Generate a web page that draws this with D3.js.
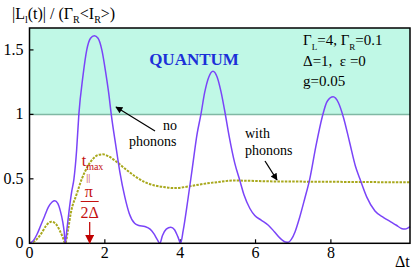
<!DOCTYPE html>
<html><head><meta charset="utf-8">
<script src="https://cdn.jsdelivr.net/npm/d3@7"></script>
<style>body{margin:0;background:#fff}svg{display:block}text{font-family:"Liberation Serif","Times New Roman",serif}</style>
</head><body><svg id="c" width="415" height="271"></svg>
<script>
// data
const noPhononsT = [0,0.1,0.2,0.3,0.4,0.5,0.6,0.67,0.75,0.82,0.88,0.92,0.95,0.99,1.05,1.12,1.18,1.25,1.31,1.42,1.52,1.62,1.72,1.82,1.92,2.02,2.1,2.17,2.3,2.4,2.53,2.65,2.79,2.9,3.06,3.2,3.3,3.4,3.46,3.53,3.63,3.75,3.85,3.94,4.01,4.08,4.2,4.32,4.45,4.55,4.65,4.76,4.87,4.98,5.08,5.18,5.3,5.45,5.58,5.7,5.85,5.98,6.15,6.34,6.5,6.65,6.8,6.87,6.95,7.05,7.17,7.3,7.44,7.6,7.77,7.9,8.06,8.2,8.33,8.5,8.65,8.77,8.95,9.17,9.4,9.6,9.74,9.87,9.97,10.05,10.1];
const noPhononsV = [0,0.02,0.07,0.14,0.21,0.28,0.32,0.33,0.31,0.25,0.17,0.09,0.0,0.1,0.25,0.4,0.5,0.72,1.0,1.3,1.5,1.59,1.61,1.59,1.5,1.33,1.17,1.0,0.74,0.55,0.36,0.23,0.155,0.138,0.13,0.11,0.075,0.025,0.0,0.06,0.11,0.125,0.105,0.05,0.0,0.1,0.33,0.58,0.85,1.0,1.17,1.29,1.335,1.29,1.18,1.03,0.83,0.62,0.49,0.37,0.27,0.215,0.18,0.14,0.09,0.04,0.01,0.008,0.03,0.09,0.2,0.34,0.5,0.75,0.98,1.1,1.136,1.09,0.98,0.78,0.6,0.5,0.36,0.25,0.2,0.165,0.14,0.115,0.11,0.12,0.13];
const withPhononsT = [0,0.15,0.3,0.45,0.58,0.7,0.8,0.88,0.95,1.02,1.1,1.25,1.39,1.55,1.7,1.82,1.95,2.1,2.3,2.53,2.8,3.06,3.3,3.6,3.86,4.2,4.6,5.0,5.45,5.8,6.5,7.5,8.5,9.5,10.1];
const withPhononsV = [0,0.02,0.07,0.14,0.168,0.15,0.1,0.05,0.0,0.1,0.24,0.38,0.5,0.6,0.66,0.685,0.69,0.675,0.635,0.58,0.52,0.475,0.45,0.435,0.428,0.44,0.46,0.475,0.487,0.485,0.48,0.478,0.476,0.474,0.473];
const xTicks = [0,2,4,6,8];
const yTicks = [0,0.5,1,1.5];
const yTickLabels = ["0","0.5","1","1.5"];
const quantumLevel = 1;
const tMax = Math.PI/2;

const svg = d3.select("#c");
const L=29.5,R=410,T=28,B=243.3;
const x = d3.scaleLinear().domain([0,10.1]).range([L,R]);
const y = d3.scaleLinear().domain([0,1.67]).range([B,T]);

// quantum region
svg.append("rect").attr("x",L).attr("y",T).attr("width",R-L).attr("height",y(quantumLevel)-T).attr("fill","#c0f8e6");
svg.append("line").attr("x1",L).attr("x2",R).attr("y1",y(quantumLevel)).attr("y2",y(quantumLevel)).attr("stroke","#80b8a4").attr("stroke-width",1.5);

// ticks inward
svg.selectAll(".xt").data(xTicks.filter(d=>d>0)).enter().append("line")
 .attr("x1",d=>x(d)).attr("x2",d=>x(d)).attr("y1",B).attr("y2",B-4).attr("stroke","#000").attr("stroke-width",1.2);
svg.selectAll(".yt").data(yTicks.filter(d=>d>0)).enter().append("line")
 .attr("x1",L).attr("x2",L+4).attr("y1",d=>y(d)).attr("y2",d=>y(d)).attr("stroke","#000").attr("stroke-width",1.2);
svg.selectAll(".xl").data(xTicks).enter().append("text")
 .attr("x",d=>x(d)).attr("y",B+15).attr("text-anchor","middle").attr("font-size",16).text(d=>d);
svg.selectAll(".yl").data(yTicks).enter().append("text")
 .attr("x",L-6).attr("y",d=>y(d)+5).attr("text-anchor","end").attr("font-size",16).text((d,i)=>yTickLabels[i]);
svg.append("text").attr("x",395).attr("y",267).attr("font-size",16).text("Δt");

// curves
const line = d3.line().x(d=>x(d[0])).y(d=>y(d[1])).curve(d3.curveMonotoneX);
svg.append("path").datum(withPhononsT.map((t,i)=>[t,withPhononsV[i]])).attr("d",line)
 .attr("fill","none").attr("stroke","#a8a81c").attr("stroke-width",2).attr("stroke-dasharray","2.5,1.2");
svg.append("path").datum(noPhononsT.map((t,i)=>[t,noPhononsV[i]])).attr("d",line)
 .attr("fill","none").attr("stroke","#7a44f8").attr("stroke-width",1.5);

// frame
svg.append("rect").attr("x",L).attr("y",T).attr("width",R-L).attr("height",B-T).attr("fill","none").attr("stroke","#000").attr("stroke-width",1.5);

// y label
const yl = svg.append("text").attr("x",12).attr("y",19).attr("font-size",16);
yl.append("tspan").text("|L");
yl.append("tspan").attr("font-size",10).attr("dy",4).text("l");
yl.append("tspan").attr("dy",-4).text("(t)| / (Γ");
yl.append("tspan").attr("font-size",10).attr("dy",4).text("R");
yl.append("tspan").attr("dy",-4).text("<I");
yl.append("tspan").attr("font-size",10).attr("dy",4).text("R");
yl.append("tspan").attr("dy",-4).text(">)");

svg.append("text").attr("x",194).attr("y",65).attr("text-anchor","middle").attr("font-size",17).attr("font-weight","bold").attr("fill","#1c30d8").text("QUANTUM");

const p1 = svg.append("text").attr("x",303).attr("y",45).attr("font-size",15);
p1.append("tspan").text("Γ");
p1.append("tspan").attr("font-size",9).attr("dy",5).text("L");
p1.append("tspan").attr("dy",-5).text("=4, Γ");
p1.append("tspan").attr("font-size",9).attr("dy",5).text("R");
p1.append("tspan").attr("dy",-5).text("=0.1");
svg.append("text").attr("x",303).attr("y",66).attr("font-size",15).attr("xml:space","preserve").text("Δ=1,  ε =0");
svg.append("text").attr("x",303).attr("y",86).attr("font-size",15).text("g=0.05");

// annotations
const defs = svg.append("defs");
function marker(id,color,w,h){
 defs.append("marker").attr("id",id).attr("viewBox","0 0 10 10").attr("refX",9).attr("refY",5)
  .attr("markerWidth",w).attr("markerHeight",h).attr("markerUnits","userSpaceOnUse").attr("orient","auto")
  .append("path").attr("d","M0,0L10,5L0,10z").attr("fill",color);
}
marker("ab","#000",9,7); marker("ar","#c00000",10,9);
svg.append("text").attr("x",163).attr("y",130).attr("font-size",14).text("no");
svg.append("text").attr("x",129).attr("y",146).attr("font-size",14).text("phonons");
svg.append("line").attr("x1",155).attr("y1",131).attr("x2",116).attr("y2",107).attr("stroke","#000").attr("stroke-width",1.3).attr("marker-end","url(#ab)");
svg.append("text").attr("x",245).attr("y",138).attr("font-size",14).text("with");
svg.append("text").attr("x",245).attr("y",155).attr("font-size",14).text("phonons");
svg.append("line").attr("x1",265).attr("y1",161).attr("x2",277).attr("y2",180).attr("stroke","#000").attr("stroke-width",1.3).attr("marker-end","url(#ab)");

const red="#c41010";
const tx = x(tMax);
const tm = svg.append("text").attr("x",tx-7).attr("y",166).attr("font-size",16).attr("fill",red);
tm.append("tspan").text("t");
tm.append("tspan").attr("font-size",10).attr("dy",4).text("max");
svg.append("text").attr("x",tx-0.5).attr("y",181).attr("text-anchor","middle").attr("font-size",10).attr("fill",red).text("||");
svg.append("text").attr("x",tx).attr("y",197).attr("text-anchor","middle").attr("font-size",16).attr("fill",red).text("π");
svg.append("line").attr("x1",tx-8).attr("x2",tx+10).attr("y1",201.5).attr("y2",201.5).attr("stroke",red).attr("stroke-width",1);
svg.append("text").attr("x",tx+1).attr("y",218).attr("text-anchor","middle").attr("font-size",16).attr("fill",red).text("2Δ");
svg.append("line").attr("x1",tx+1).attr("x2",tx+1).attr("y1",222).attr("y2",243).attr("stroke",red).attr("stroke-width",1.3).attr("marker-end","url(#ar)");
</script></body></html>
